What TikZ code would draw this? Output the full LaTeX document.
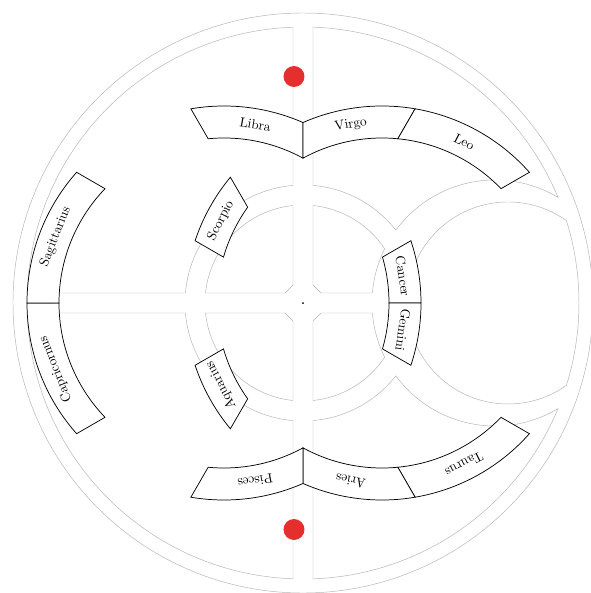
\documentclass[tikz,border=0pt]{standalone}
\usepackage{amsmath,amssymb}
\usepackage{xcolor}
\usepackage{tikz}
\usetikzlibrary{calc}

\definecolor{markred}{RGB}{229,46,46}

\begin{document}
\begin{tikzpicture}[x=0.75pt,y=0.75pt,
    guide/.style={gray!60, line width=0.35pt},
    signbox/.style={draw=black, fill=white, line width=0.55pt},
    signlabel/.style={inner sep=0pt, font=\normalsize}]
% 1 unit = 1 px of the sketch, origin at the centre dot
\useasboundingbox (-303,-290) rectangle (287,303);
% Rim: r=290, and r=276 which is open where the channels reach it
\draw[guide] (0,0) circle[radius=290];
% Left half: between r=118 and the rim, cut by the cross (half width 10)
\draw[guide] (-10,275.82) -- (-10,117.58) arc[start angle=94.86, end angle=175.14, radius=118]
    -- (-275.82,10) arc[start angle=177.92, end angle=92.08, radius=276] -- cycle;
\draw[guide] (-10,-275.82) -- (-10,-117.58) arc[start angle=265.14, end angle=184.86, radius=118]
    -- (-275.82,-10) arc[start angle=182.08, end angle=267.92, radius=276] -- cycle;
% Right half: r=118 meets the right ring (outer r=123 round (192,0)) at the cusp
\draw[guide] (10,117.58) arc[start angle=85.14, end angle=38.10, radius=118]
    arc[start angle=143.71, end angle=59.20, radius=123]
    arc[start angle=22.50, end angle=87.92, radius=276] -- cycle;
\draw[guide] (10,-117.58) arc[start angle=-85.14, end angle=-38.10, radius=118]
    arc[start angle=216.29, end angle=300.80, radius=123]
    arc[start angle=-22.50, end angle=-87.92, radius=276] -- cycle;
% Inner disc of the right ring: r=101 round (205,0)
\draw[guide] (263.41,82.41) arc[start angle=54.67, end angle=305.33, radius=101]
    arc[start angle=-17.37, end angle=17.37, radius=276] -- cycle;
% Quadrants of the centre disc (r=98), chamfered at the middle
\draw[guide] (-10,18) -- (-18,10) -- (-97.49,10) arc[start angle=174.14, end angle=95.86, radius=98] -- cycle;
\draw[guide] (-10,-18) -- (-18,-10) -- (-97.49,-10) arc[start angle=185.86, end angle=264.14, radius=98] -- cycle;
\draw[guide] (10,18) -- (18,10) -- (69.41,10) arc[start angle=175.34, end angle=153.83, radius=123]
    arc[start angle=33.61, end angle=84.14, radius=98] -- cycle;
\draw[guide] (10,-18) -- (18,-10) -- (69.41,-10) arc[start angle=184.66, end angle=206.17, radius=123]
    arc[start angle=-33.61, end angle=-84.14, radius=98] -- cycle;
\fill (0,0) circle[radius=1];
% Red markers on the left edge of the vertical channel
\fill[markred] (-9,226.5) circle[radius=10.5];
\fill[markred] (-9,-226.5) circle[radius=10.5];
% Signs: 30 deg sectors seen from the centre, cut from a ring r=165..197
% round (-79,0) or (79,0); \lo/\hi are the sector's ray angles
% (radii in hundreds inside sqrt to keep pgfmath below 16384)
\foreach \cx/\lo/\hi/\n/\lbl in {-79/90/120/libra/Libra, 79/60/90/virgo/Virgo,
    79/30/60/leo/Leo, -79/0/30/cancer/Cancer, -79/-30/0/gemini/Gemini,
    79/-60/-30/taurus/Taurus, 79/-90/-60/aries/Aries, -79/-120/-90/pisces/Pisces,
    79/-150/-120/aquarius/Aquarius, -79/180/210/capricornus/Capricornus,
    -79/150/180/sagittarius/Sagittarius, 79/120/150/scorpio/Scorpio} {
  % distance along each ray to the outer / inner ring edge
  \pgfmathsetmacro\tOa{\cx*cos(\lo)+100*sqrt(1.97^2-(\cx*sin(\lo)/100)^2)}
  \pgfmathsetmacro\tOb{\cx*cos(\hi)+100*sqrt(1.97^2-(\cx*sin(\hi)/100)^2)}
  \pgfmathsetmacro\tIa{\cx*cos(\lo)+100*sqrt(1.65^2-(\cx*sin(\lo)/100)^2)}
  \pgfmathsetmacro\tIb{\cx*cos(\hi)+100*sqrt(1.65^2-(\cx*sin(\hi)/100)^2)}
  \pgfmathsetmacro\md{(\lo+\hi)/2}
  \pgfmathsetmacro\tM{\cx*cos(\md)+100*sqrt(1.81^2-(\cx*sin(\md)/100)^2)}
  % the same points as angles round the ring centre
  \pgfmathsetmacro\fOa{atan2(\tOa*sin(\lo),\tOa*cos(\lo)-\cx)}
  \pgfmathsetmacro\fOb{atan2(\tOb*sin(\hi),\tOb*cos(\hi)-\cx)}
  \pgfmathsetmacro\fOb{\fOb<\fOa ? \fOb+360 : \fOb}
  \pgfmathsetmacro\fIa{atan2(\tIa*sin(\lo),\tIa*cos(\lo)-\cx)}
  \pgfmathsetmacro\fIb{atan2(\tIb*sin(\hi),\tIb*cos(\hi)-\cx)}
  \pgfmathsetmacro\fIb{\fIb<\fIa ? \fIb+360 : \fIb}
  \pgfmathsetmacro\fM{atan2(\tM*sin(\md),\tM*cos(\md)-\cx)}
  \draw[signbox] (\lo:\tOa) arc[start angle=\fOa, end angle=\fOb, radius=197]
      -- (\hi:\tIb) arc[start angle=\fIb, end angle=\fIa, radius=165] -- cycle;
  \node[signlabel, rotate=\fM-90] (\n) at (\md:\tM) {\lbl};
}
\end{tikzpicture}
\end{document}
